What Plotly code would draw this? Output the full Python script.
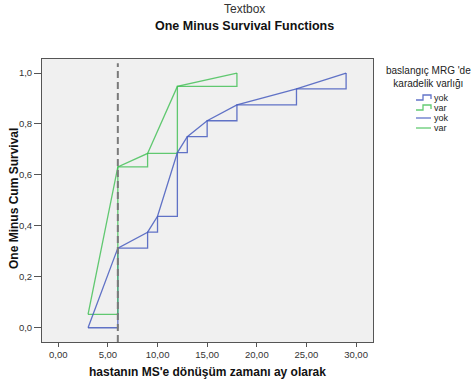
import plotly.graph_objects as go

# ---- data ----
times_yok = [3, 6, 9, 10, 12, 13, 15, 18, 24, 29]
cum_yok = [0.0, 0.3125, 0.375, 0.4375, 0.6875, 0.75, 0.8125, 0.875, 0.9375, 1.0]
times_var = [3, 6, 9, 12, 18]
cum_var = [0.0526, 0.6316, 0.6842, 0.9474, 1.0]
ref_time = 6
legend_title = ["baslangıç MRG 'de", "karadelik varlığı"]
legend_labels = ["yok", "var", "yok", "var"]

BLUE = "rgba(70,92,190,0.85)"
GREEN = "rgba(60,190,80,0.8)"
FONT = "Liberation Sans, Arial, sans-serif"

W, H = 476, 386
L, R, T, B = 42, 103, 59, 44
PW, PH = W - L - R, H - T - B


def px(x):
    return (x - L) / PW


def py(y):
    return (H - B - y) / PH


fig = go.Figure()
fig.add_trace(go.Scatter(x=times_yok, y=cum_yok, mode="lines", line=dict(shape="hv", color=BLUE, width=1.3),
                         name="yok", showlegend=False))
fig.add_trace(go.Scatter(x=times_var, y=cum_var, mode="lines", line=dict(shape="hv", color=GREEN, width=1.3),
                         name="var", showlegend=False))
fig.add_trace(go.Scatter(x=times_yok, y=cum_yok, mode="lines", line=dict(color=BLUE, width=1.3),
                         name="yok", showlegend=False))
fig.add_trace(go.Scatter(x=times_var, y=cum_var, mode="lines", line=dict(color=GREEN, width=1.3),
                         name="var", showlegend=False))

# reference vertical dashed line
fig.add_shape(type="line", xref="x", yref="paper", x0=ref_time, x1=ref_time, y0=0, y1=0.985,
              line=dict(color="#7a7a7a", width=2, dash="7px,4px"))

# titles
fig.add_annotation(text="Textbox", xref="paper", yref="paper", x=px(244), y=py(9), showarrow=False,
                   font=dict(family=FONT, size=12, color="#333"), xanchor="center", yanchor="middle")
fig.add_annotation(text="<b>One Minus Survival Functions</b>", xref="paper", yref="paper", x=px(244), y=py(26),
                   showarrow=False, font=dict(family=FONT, size=12.5, color="#111"), xanchor="center", yanchor="middle")

# axis titles (placed manually)
fig.add_annotation(text="<b>hastanın MS'e dönüşüm zamanı ay olarak</b>", xref="paper", yref="paper",
                   x=px(207), y=py(372), showarrow=False, xanchor="center", yanchor="middle",
                   font=dict(family=FONT, size=12, color="#111"))
fig.add_annotation(text="<b>One Minus Cum Survival</b>", xref="paper", yref="paper", textangle=-90,
                   x=px(14), y=py(199), showarrow=False, xanchor="center", yanchor="middle",
                   font=dict(family=FONT, size=12, color="#111"))

# manual legend
fig.add_annotation(text=legend_title[0] + "<br>" + legend_title[1], xref="paper", yref="paper",
                   x=px(428), y=py(77), showarrow=False, xanchor="center", yanchor="middle",
                   font=dict(family=FONT, size=10, color="#222"))
rows = [98, 108, 118, 128]
cols = [BLUE, GREEN, BLUE, GREEN]
for i, (yy, c, lab) in enumerate(zip(rows, cols, legend_labels)):
    if i < 2:
        pts = [(416, yy + 2), (423, yy + 2), (423, yy - 3), (431, yy - 3), (431, yy + 1)]
    else:
        pts = [(416, yy), (431, yy)]
    path = "M " + " L ".join(f"{px(a):.5f},{py(b):.5f}" for a, b in pts)
    fig.add_shape(type="path", xref="paper", yref="paper", path=path, line=dict(color=c, width=1.3))
    fig.add_annotation(text=lab, xref="paper", yref="paper", x=px(432), y=py(yy), showarrow=False,
                       xanchor="left", yanchor="middle", font=dict(family=FONT, size=9, color="#222"))

fig.update_layout(
    width=W, height=H,
    margin=dict(l=L, r=R, t=T, b=B),
    paper_bgcolor="white",
    plot_bgcolor="#f0f0f0",
    separators=",.",
    showlegend=False,
    font=dict(family=FONT, size=9.5, color="#333"),
)
fig.update_xaxes(range=[-1.64, 31.71], tickvals=[0, 5, 10, 15, 20, 25, 30], tickformat=".2f",
                 showgrid=False, zeroline=False, showline=True, linecolor="#555", linewidth=1, mirror=True,
                 ticks="outside", ticklen=4, tickcolor="#555", automargin=False)
fig.update_yaxes(range=[-0.056, 1.055], tickvals=[0, 0.2, 0.4, 0.6, 0.8, 1.0], tickformat=".1f",
                 showgrid=False, zeroline=False, showline=True, linecolor="#555", linewidth=1, mirror=True,
                 ticks="outside", ticklen=7, tickcolor="#555", automargin=False)

fig.write_html("out.html")
